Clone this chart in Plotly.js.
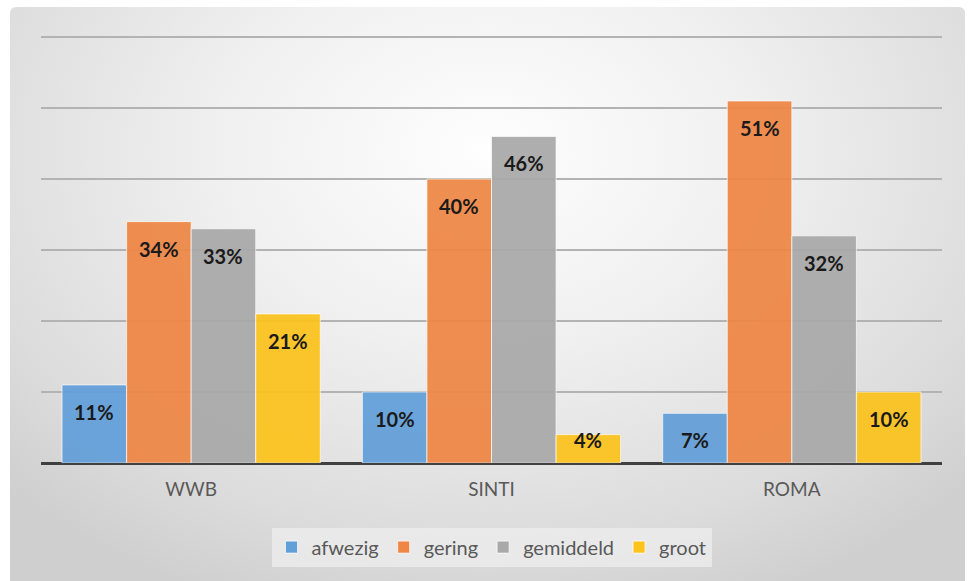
<!DOCTYPE html>
<html>
<head>
<meta charset="utf-8">
<script src="https://cdn.plot.ly/plotly-3.0.1.min.js"></script>
<style>
  html, body { margin: 0; padding: 0; background: #ffffff; }
  #wrap { position: relative; width: 972px; height: 581px; overflow: hidden; }
  #bg { position: absolute; left: 10px; top: 7px; right: 7px; bottom: 0px;
        border-radius: 6px 6px 0 0;
        background: radial-gradient(ellipse 70% 85% at 50% 25%, #fefefe 0%, #f0f0f0 40%, #dcdcdc 80%, #cfcfcf 100%); }
  #chart { position: absolute; left: 0; top: 0; width: 972px; height: 581px; }
</style>
</head>
<body>
<div id="wrap">
  <div id="bg"></div>
  <div id="chart"></div>
</div>
<script>
const categories = ['WWB', 'SINTI', 'ROMA'];
const seriesNames = ['afwezig', 'gering', 'gemiddeld', 'groot'];
const afwezig = [11, 10, 7];
const gering = [34, 40, 51];
const gemiddeld = [33, 46, 32];
const groot = [21, 4, 10];
const allSeries = [afwezig, gering, gemiddeld, groot];
const colors = ['#629fd9', '#ef8645', '#a9a9a9', '#fcc31c'];

const bargap = 0.14;
const nSeries = allSeries.length;
const barW = (1 - bargap) / nSeries;

const traces = allSeries.map((vals, k) => ({
  type: 'bar',
  name: seriesNames[k],
  x: categories,
  y: vals,
  marker: { color: colors[k], opacity: 0.93, line: { color: 'rgba(255,255,255,0.7)', width: 1 } },
  hoverinfo: 'skip'
}));

const annotations = [];
allSeries.forEach((vals, k) => {
  vals.forEach((v, i) => {
    annotations.push({
      x: i + (k - (nSeries - 1) / 2) * barW,
      y: v,
      xref: 'x', yref: 'y',
      text: v + '%',
      showarrow: false,
      yanchor: 'middle',
      yshift: v < 5 ? -5 : -27,
      font: { family: 'Lato, "Open Sans", sans-serif', size: 20, color: '#1a1a1a', weight: 'bold' }
    });
  });
});

const layout = {
  width: 972, height: 581,
  margin: { l: 41, r: 30, t: 36, b: 118 },
  paper_bgcolor: 'rgba(0,0,0,0)',
  plot_bgcolor: 'rgba(0,0,0,0)',
  barmode: 'group',
  bargap: bargap,
  bargroupgap: 0,
  font: { family: 'Lato, "Open Sans", sans-serif', color: '#595959' },
  xaxis: {
    type: 'category',
    showgrid: false,
    showline: false,
    zeroline: false,
    ticks: 'outside', ticklen: 9, tickcolor: 'rgba(0,0,0,0)',
    tickfont: { size: 19, color: '#595959' }
  },
  yaxis: {
    range: [0, 60.15],
    tickvals: [10, 20, 30, 40, 50, 60],
    showticklabels: false,
    showgrid: true,
    gridcolor: '#b3b3b3',
    gridwidth: 2,
    zeroline: true,
    zerolinecolor: '#404040',
    zerolinewidth: 3,
    fixedrange: true
  },
  showlegend: true,
  legend: {
    orientation: 'h',
    x: 0.5, xanchor: 'center',
    y: -0.197, yanchor: 'middle',
    bgcolor: 'rgba(238,238,238,0.75)',
    font: { size: 20, color: '#595959' },
    itemwidth: 30,
    traceorder: 'normal'
  },
  annotations: annotations
};

Plotly.newPlot('chart', traces, layout, { displayModeBar: false, staticPlot: true });
</script>
</body>
</html>
